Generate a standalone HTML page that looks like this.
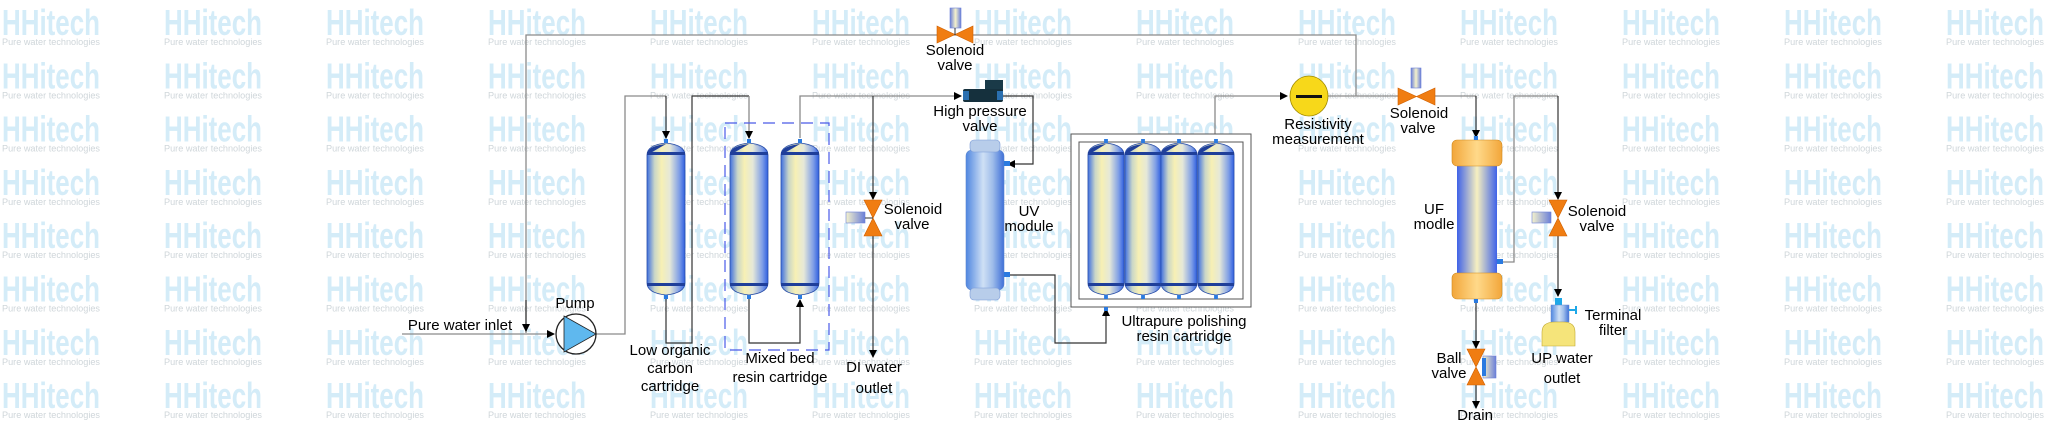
<!DOCTYPE html>
<html><head><meta charset="utf-8"><style>
html,body{margin:0;padding:0;background:#fff;}
svg{display:block;}
text{font-family:"Liberation Sans",Arial,sans-serif;}
.lb{font-size:15px;fill:#000;}
.wm{font-size:36px;font-weight:bold;fill:#d4ecf8;}
.ws{font-size:9px;fill:#cfd6da;}
.p{fill:none;stroke:#8a8a8a;stroke-width:1.3;}
.k{fill:none;stroke:#333;stroke-width:1.2;}
</style></head><body>
<svg width="2045" height="428" viewBox="0 0 2045 428" xmlns="http://www.w3.org/2000/svg">
<defs>
<marker id="a" markerWidth="8" markerHeight="8" refX="7" refY="4" orient="auto" markerUnits="userSpaceOnUse"><path d="M0,0 L8,4 L0,8 z" fill="#000"/></marker>
<linearGradient id="cg" x1="0" x2="1" y1="0" y2="0">
<stop offset="0" stop-color="#3f6fe0"/><stop offset="0.2" stop-color="#c9d6c8"/><stop offset="0.38" stop-color="#f7f0b4"/><stop offset="0.6" stop-color="#e5e8d8"/><stop offset="0.85" stop-color="#7f9ee6"/><stop offset="1" stop-color="#2f5fe0"/></linearGradient>
<linearGradient id="uv" x1="0" x2="1"><stop offset="0" stop-color="#4f86e0"/><stop offset="0.45" stop-color="#cfe0f5"/><stop offset="0.7" stop-color="#9fbdea"/><stop offset="1" stop-color="#3f70d8"/></linearGradient>
<linearGradient id="uf" x1="0" x2="1"><stop offset="0" stop-color="#3f62e8"/><stop offset="0.5" stop-color="#f7f0c0"/><stop offset="1" stop-color="#3f62e8"/></linearGradient>
<linearGradient id="oc" x1="0" x2="1"><stop offset="0" stop-color="#f2a63a"/><stop offset="0.5" stop-color="#ffd98a"/><stop offset="1" stop-color="#f2a63a"/></linearGradient>
<linearGradient id="act" x1="0" x2="1"><stop offset="0" stop-color="#6a7fd8"/><stop offset="0.5" stop-color="#f5f2cc"/><stop offset="1" stop-color="#6a7fd8"/></linearGradient>
<linearGradient id="acth" x1="0" x2="1"><stop offset="0" stop-color="#f5f2cc"/><stop offset="1" stop-color="#6a7fd8"/></linearGradient>
<g id="wmk"><text class="wm" x="0" y="35" textLength="98" lengthAdjust="spacingAndGlyphs">HHitech</text><text class="ws" x="0" y="45" textLength="98" lengthAdjust="spacingAndGlyphs">Pure water technologies</text></g>
<g id="cart">
<path d="M-19,12 Q-19,2 0,0 Q19,2 19,12 L19,140 Q19,150 0,152 Q-19,150 -19,140 Z" fill="url(#cg)" stroke="#2a4fa8" stroke-width="0.8"/>
<path d="M-19,12 Q-19,3 0,1 Q19,3 19,12 L19,10 Q17,3 0,1" fill="#1f3f9a"/>
<rect x="-19" y="9" width="38" height="3" fill="#1f3f9a"/>
<rect x="-19" y="140" width="38" height="3" fill="#1f3f9a"/>
<rect x="-2" y="-4" width="4" height="4" fill="#2a7ae0"/><rect x="-2" y="152" width="4" height="4" fill="#2a7ae0"/>
</g>
</defs>

<!-- watermarks -->
<g>
<use href="#wmk" x="2" y="0"/><use href="#wmk" x="164" y="0"/><use href="#wmk" x="326" y="0"/><use href="#wmk" x="488" y="0"/><use href="#wmk" x="650" y="0"/><use href="#wmk" x="812" y="0"/><use href="#wmk" x="974" y="0"/><use href="#wmk" x="1136" y="0"/><use href="#wmk" x="1298" y="0"/><use href="#wmk" x="1460" y="0"/><use href="#wmk" x="1622" y="0"/><use href="#wmk" x="1784" y="0"/><use href="#wmk" x="1946" y="0"/>
</g>
<use href="#wmrow" y="0"/>
<g id="wmrow" style="display:none"></g>
<g>
<g transform="translate(0,53.3)"><use href="#wmk" x="2"/><use href="#wmk" x="164"/><use href="#wmk" x="326"/><use href="#wmk" x="488"/><use href="#wmk" x="650"/><use href="#wmk" x="812"/><use href="#wmk" x="974"/><use href="#wmk" x="1136"/><use href="#wmk" x="1298"/><use href="#wmk" x="1460"/><use href="#wmk" x="1622"/><use href="#wmk" x="1784"/><use href="#wmk" x="1946"/></g>
<g transform="translate(0,106.6)"><use href="#wmk" x="2"/><use href="#wmk" x="164"/><use href="#wmk" x="326"/><use href="#wmk" x="488"/><use href="#wmk" x="650"/><use href="#wmk" x="812"/><use href="#wmk" x="974"/><use href="#wmk" x="1136"/><use href="#wmk" x="1298"/><use href="#wmk" x="1460"/><use href="#wmk" x="1622"/><use href="#wmk" x="1784"/><use href="#wmk" x="1946"/></g>
<g transform="translate(0,159.9)"><use href="#wmk" x="2"/><use href="#wmk" x="164"/><use href="#wmk" x="326"/><use href="#wmk" x="488"/><use href="#wmk" x="650"/><use href="#wmk" x="812"/><use href="#wmk" x="974"/><use href="#wmk" x="1136"/><use href="#wmk" x="1298"/><use href="#wmk" x="1460"/><use href="#wmk" x="1622"/><use href="#wmk" x="1784"/><use href="#wmk" x="1946"/></g>
<g transform="translate(0,213.2)"><use href="#wmk" x="2"/><use href="#wmk" x="164"/><use href="#wmk" x="326"/><use href="#wmk" x="488"/><use href="#wmk" x="650"/><use href="#wmk" x="812"/><use href="#wmk" x="974"/><use href="#wmk" x="1136"/><use href="#wmk" x="1298"/><use href="#wmk" x="1460"/><use href="#wmk" x="1622"/><use href="#wmk" x="1784"/><use href="#wmk" x="1946"/></g>
<g transform="translate(0,266.5)"><use href="#wmk" x="2"/><use href="#wmk" x="164"/><use href="#wmk" x="326"/><use href="#wmk" x="488"/><use href="#wmk" x="650"/><use href="#wmk" x="812"/><use href="#wmk" x="974"/><use href="#wmk" x="1136"/><use href="#wmk" x="1298"/><use href="#wmk" x="1460"/><use href="#wmk" x="1622"/><use href="#wmk" x="1784"/><use href="#wmk" x="1946"/></g>
<g transform="translate(0,319.8)"><use href="#wmk" x="2"/><use href="#wmk" x="164"/><use href="#wmk" x="326"/><use href="#wmk" x="488"/><use href="#wmk" x="650"/><use href="#wmk" x="812"/><use href="#wmk" x="974"/><use href="#wmk" x="1136"/><use href="#wmk" x="1298"/><use href="#wmk" x="1460"/><use href="#wmk" x="1622"/><use href="#wmk" x="1784"/><use href="#wmk" x="1946"/></g>
<g transform="translate(0,373.1)"><use href="#wmk" x="2"/><use href="#wmk" x="164"/><use href="#wmk" x="326"/><use href="#wmk" x="488"/><use href="#wmk" x="650"/><use href="#wmk" x="812"/><use href="#wmk" x="974"/><use href="#wmk" x="1136"/><use href="#wmk" x="1298"/><use href="#wmk" x="1460"/><use href="#wmk" x="1622"/><use href="#wmk" x="1784"/><use href="#wmk" x="1946"/></g>
</g>

<!-- pipes -->
<path class="p" d="M526,333 L526,35 L1356,35 L1356,96"/>
<path class="k" d="M526,300 L526,331" marker-end="url(#a)"/>
<path class="p" d="M402,334 L554,334" marker-end="url(#a)"/>
<path class="p" d="M596,334 L625,334 L625,96 L666,96"/>
<path class="k" d="M666,96 L666,138" marker-end="url(#a)"/>
<path class="k" d="M666,299 L666,343 L692,343 L692,96 L749,96"/>
<path class="p" d="M749,96 L749,138" marker-end="url(#a)"/>
<path class="k" d="M749,299 L749,343 L800,343 L800,300" marker-end="url(#a)"/>
<path class="p" d="M800,138 L800,96 L961,96" marker-end="url(#a)"/>
<path class="k" d="M873,96 L873,199" marker-end="url(#a)"/>
<path class="k" d="M873,236 L873,357" marker-end="url(#a)"/>
<path class="k" d="M1003,96 L1033,96 L1033,164 L1008,164" marker-end="url(#a)"/>
<path class="k" d="M1008,275 L1055,275 L1055,343 L1106,343 L1106,309" marker-end="url(#a)"/>
<path class="p" d="M1215,134 L1215,96 L1287,96" marker-end="url(#a)"/>
<path class="p" d="M1328,96 L1398,96"/>
<path class="p" d="M1435,96 L1476,96"/>
<path class="k" d="M1476,96 L1476,137" marker-end="url(#a)"/>
<path class="p" d="M1500,262 L1514,262 L1514,96 L1558,96"/>
<path class="k" d="M1558,96 L1558,199" marker-end="url(#a)"/>
<path class="k" d="M1558,236 L1558,296" marker-end="url(#a)"/>
<path class="k" d="M1476,300 L1476,348" marker-end="url(#a)"/>
<path class="k" d="M1476,385 L1476,408" marker-end="url(#a)"/>

<!-- pump -->
<circle cx="576" cy="334" r="20" fill="#fff" stroke="#222" stroke-width="1.3"/>
<path d="M564,316 L596,334 L564,352 Z" fill="#5fb8ee" stroke="#222" stroke-width="0.8"/>

<!-- cartridges -->
<use href="#cart" transform="translate(666,143)"/>
<use href="#cart" transform="translate(749,143)"/>
<use href="#cart" transform="translate(800,143)"/>
<rect x="725" y="123" width="104" height="227" fill="none" stroke="#4a5ae8" stroke-width="1.2" stroke-dasharray="12,7"/>

<!-- DI solenoid -->
<path d="M864,200 L882,200 L864,236 L882,236 Z" fill="#f07d12" stroke="#d06000" stroke-width="0.6"/>
<rect x="846" y="212" width="19" height="11" fill="url(#acth)" stroke="#6a7fd8" stroke-width="0.6"/>
<line x1="865" y1="218" x2="873" y2="218" stroke="#333"/>

<!-- top solenoid -->
<path d="M937,26 L973,43 L973,26 L937,43 Z" fill="#f07d12" stroke="#d06000" stroke-width="0.6"/>
<rect x="950" y="8" width="11" height="20" fill="url(#act)" stroke="#6a7fd8" stroke-width="0.6"/>
<line x1="955" y1="28" x2="955" y2="35" stroke="#333"/>

<!-- high pressure valve -->
<rect x="985" y="80" width="18" height="11" fill="#1a3a48"/>
<rect x="963" y="89" width="40" height="13" rx="2" fill="#15303d"/>
<rect x="963" y="91" width="6" height="9" fill="#2a6fb0"/><rect x="997" y="91" width="6" height="9" fill="#2a6fb0"/>

<!-- UV module -->
<rect x="966" y="150" width="38" height="140" rx="6" fill="url(#uv)" stroke="#5a86d0" stroke-width="0.6"/>
<rect x="970" y="140" width="30" height="12" rx="4" fill="#b8cdea" stroke="#7a9ad6" stroke-width="0.6"/>
<rect x="970" y="288" width="30" height="12" rx="4" fill="#b8cdea" stroke="#7a9ad6" stroke-width="0.6"/>
<rect x="1004" y="161" width="6" height="5" fill="#2a7ae0"/><rect x="1004" y="272" width="6" height="5" fill="#2a7ae0"/>

<!-- polishing box -->
<rect x="1071" y="134" width="180" height="173" fill="#fff" stroke="#555" stroke-width="1"/>
<rect x="1079" y="142" width="164" height="157" fill="none" stroke="#555" stroke-width="1"/>
<g transform="translate(1106,143) scale(0.95,1)"><use href="#cart"/></g>
<g transform="translate(1143,143) scale(0.95,1)"><use href="#cart"/></g>
<g transform="translate(1179,143) scale(0.95,1)"><use href="#cart"/></g>
<g transform="translate(1216,143) scale(0.95,1)"><use href="#cart"/></g>
<rect x="1104" y="307" width="4" height="4" fill="#2a7ae0"/>

<!-- resistivity -->
<ellipse cx="1309" cy="96" rx="19" ry="20" fill="#f7d81a" stroke="#a08a00" stroke-width="0.8"/>
<rect x="1296" y="95" width="26" height="3" fill="#111"/>

<!-- solenoid right top -->
<path d="M1398,88 L1435,105 L1435,88 L1398,105 Z" fill="#f07d12" stroke="#d06000" stroke-width="0.6"/>
<rect x="1411" y="68" width="10" height="20" fill="url(#act)" stroke="#6a7fd8" stroke-width="0.6"/>

<!-- UF -->
<rect x="1457" y="160" width="40" height="120" fill="url(#uf)"/>
<rect x="1452" y="140" width="50" height="26" rx="5" fill="url(#oc)" stroke="#d08a20" stroke-width="0.6"/>
<rect x="1452" y="273" width="50" height="26" rx="5" fill="url(#oc)" stroke="#d08a20" stroke-width="0.6"/>
<rect x="1474" y="136" width="4" height="4" fill="#2a7ae0"/><rect x="1474" y="299" width="4" height="4" fill="#2a7ae0"/>
<rect x="1497" y="259" width="6" height="5" fill="#2a7ae0"/>

<!-- right solenoid -->
<path d="M1549,200 L1567,200 L1549,236 L1567,236 Z" fill="#f07d12" stroke="#d06000" stroke-width="0.6"/>
<rect x="1532" y="212" width="19" height="11" fill="url(#acth)" stroke="#6a7fd8" stroke-width="0.6"/>

<!-- terminal filter -->
<rect x="1555" y="298" width="7" height="7" fill="#1ea8e8"/>
<rect x="1551" y="305" width="18" height="17" fill="url(#uv)" stroke="#6a8ad0" stroke-width="0.5"/>
<rect x="1569" y="309" width="6" height="2" fill="#1ea8e8"/><rect x="1575" y="306" width="2" height="8" fill="#1ea8e8"/>
<path d="M1542,346 L1542,332 Q1542,322 1555,322 L1563,322 Q1575,322 1575,332 L1575,346 Z" fill="#f5e47a" stroke="#c0a830" stroke-width="0.6"/>

<!-- ball valve -->
<path d="M1467,349 L1485,349 L1467,385 L1485,385 Z" fill="#f07d12" stroke="#d06000" stroke-width="0.6"/>
<rect x="1483" y="356" width="13" height="22" fill="url(#acth)" stroke="#6a7fd8" stroke-width="0.6"/>
<rect x="1482" y="358" width="4" height="18" fill="#2a7ae0"/>

<!-- labels -->
<g class="lb" text-anchor="middle">
<text x="575" y="308">Pump</text>
<text x="460" y="330">Pure water inlet</text>
<text x="670" y="355">Low organic</text><text x="670" y="373">carbon</text><text x="670" y="391">cartridge</text>
<text x="780" y="363">Mixed bed</text><text x="780" y="382">resin cartridge</text>
<text x="874" y="372">DI water</text><text x="874" y="393">outlet</text>
<text x="913" y="214">Solenoid</text><text x="912" y="229">valve</text>
<text x="955" y="55">Solenoid</text><text x="955" y="70">valve</text>
<text x="980" y="116">High pressure</text><text x="980" y="131">valve</text>
<text x="1029" y="216">UV</text><text x="1029" y="231">module</text>
<text x="1184" y="326">Ultrapure polishing</text><text x="1184" y="341">resin cartridge</text>
<text x="1318" y="129">Resistivity</text><text x="1318" y="144">measurement</text>
<text x="1419" y="118">Solenoid</text><text x="1418" y="133">valve</text>
<text x="1434" y="214">UF</text><text x="1434" y="229">modle</text>
<text x="1597" y="216">Solenoid</text><text x="1597" y="231">valve</text>
<text x="1613" y="320">Terminal</text><text x="1613" y="335">filter</text>
<text x="1562" y="363">UP water</text><text x="1562" y="383">outlet</text>
<text x="1449" y="363">Ball</text><text x="1449" y="378">valve</text>
<text x="1475" y="420">Drain</text>
</g>
</svg>
</body></html>
